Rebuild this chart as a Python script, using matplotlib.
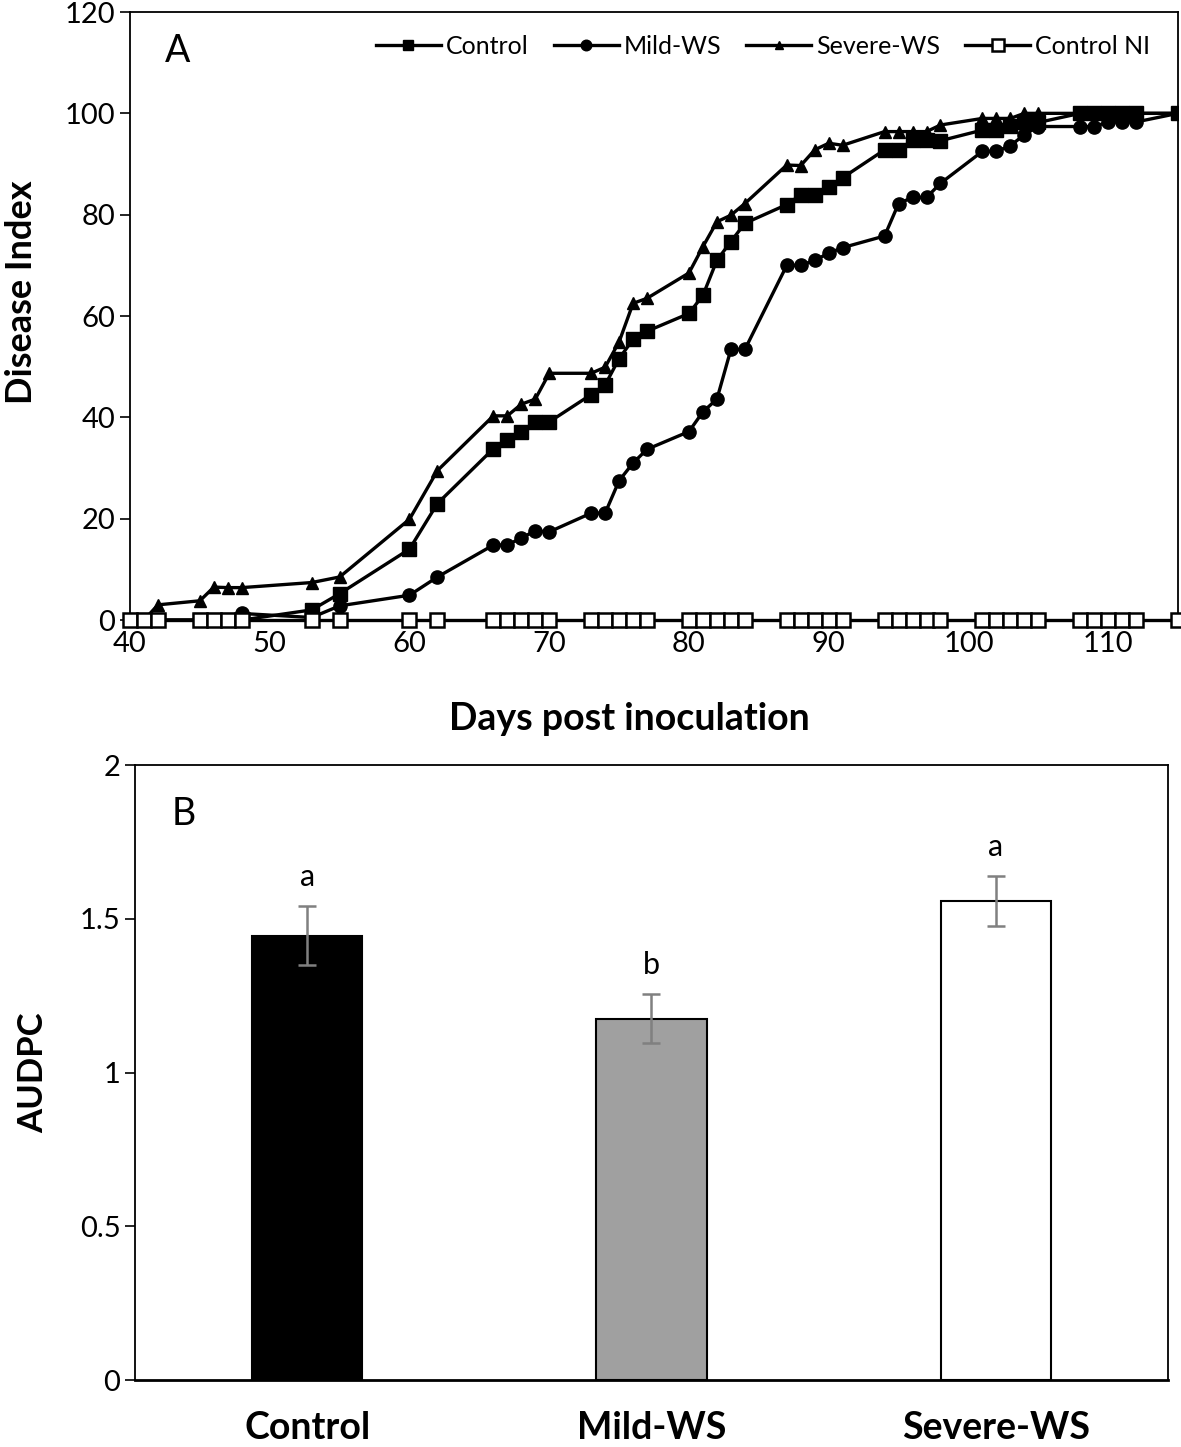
import matplotlib
matplotlib.use("Agg")
import matplotlib.pyplot as plt

plt.rcParams['font.family'] = ['Lato', 'DejaVu Sans']

days = [40, 41, 42, 45, 46, 47, 48, 53, 55, 60, 62, 66, 67, 68, 69, 70, 73, 74, 75, 76, 77,
        80, 81, 82, 83, 84, 87, 88, 89, 90, 91, 94, 95, 96, 97, 98, 101, 102, 103, 104, 105,
        108, 109, 110, 111, 112, 115]

control = [0, 0, 0, 0, 0, 0, 0, 2, 5.2, 14, 23, 33.8, 35.6, 37.2, 39.1, 39.1, 44.5, 46.4, 51.6, 55.4, 57,
           60.5, 64.1, 71, 74.7, 78.3, 82, 83.9, 83.9, 85.5, 87.3, 92.8, 92.8, 94.7, 94.7, 94.6,
           96.7, 96.7, 97.6, 98.2, 98.2, 100, 100, 100, 100, 100, 100]

mild = [0, 0, 0, 0, 0, 0, 1.3, 0.5, 2.8, 4.9, 8.5, 14.8, 14.8, 16.2, 17.6, 17.4, 21.1, 21.1, 27.5, 31, 33.7,
        37.2, 41.1, 43.6, 53.4, 53.4, 70, 70, 71, 72.4, 73.5, 75.8, 82.2, 83.4, 83.4, 86.2,
        92.5, 92.5, 93.6, 95.8, 97.4, 97.4, 97.4, 98.3, 98.3, 98.3, 100]

severe = [0, 0, 3, 3.8, 6.5, 6.4, 6.4, 7.4, 8.5, 19.9, 29.5, 40.3, 40.3, 42.6, 43.6, 48.7, 48.7, 49.9, 54.9, 62.5, 63.5,
          68.5, 73.7, 78.6, 79.9, 82.2, 89.8, 89.7, 92.8, 94.1, 93.7, 96.4, 96.4, 96.4, 96.4, 97.7,
          99, 99, 99, 100, 100, 100, 100, 100, 100, 100, 100]

control_ni = [0] * len(days)

groups = ["Control", "Mild-WS", "Severe-WS"]
audpc = [1.445, 1.175, 1.558]
audpc_err = [0.095, 0.079, 0.08]
letters = ["a", "b", "a"]
bar_colors = ["#000000", "#A0A0A0", "#FFFFFF"]

fig = plt.figure(figsize=(11.81, 14.47), dpi=100)

# Panel A
axA = fig.add_axes([0.1101, 0.5715, 0.8874, 0.4202])
lw = 2.4
lc = axA.plot(days, control, color='black', lw=lw, marker='s', ms=9.5, label='Control', zorder=4)[0]
lm = axA.plot(days, mild, color='black', lw=lw, marker='o', ms=9.5, label='Mild-WS', zorder=3)[0]
ls = axA.plot(days, severe, color='black', lw=lw, marker='^', ms=8, label='Severe-WS', zorder=3)[0]
ln = axA.plot(days, control_ni, color='black', lw=lw, marker='s', ms=10.5, mfc='white', mec='black', mew=1.8,
              label='Control NI', zorder=5, clip_on=False)[0]

axA.set_xlim(40, 115)
axA.set_ylim(0, 120)
axA.set_xticks(range(40, 111, 10))
axA.set_yticks(range(0, 121, 20))
axA.tick_params(axis='both', labelsize=21, direction='out', length=7, width=1.2)
axA.tick_params(axis='x', length=0, pad=8)
for s in axA.spines.values():
    s.set_linewidth(1.3)
axA.set_xlabel('Days post inoculation', fontsize=27, fontweight='bold')
axA.xaxis.set_label_coords(0.476, -0.135)
axA.set_ylabel('Disease Index', fontsize=26, fontweight='bold')
axA.yaxis.set_label_coords(-0.088, 0.54)
axA.text(0.033, 0.965, 'A', transform=axA.transAxes, fontsize=27, va='top', ha='left')

axA.legend([lc, lm, ls, ln], ['Control', 'Mild-WS', 'Severe-WS', 'Control NI'], loc='upper right',
           bbox_to_anchor=(0.995, 1.0), ncol=4, frameon=False, fontsize=18,
           handlelength=2.6, columnspacing=1.0, handletextpad=0.2, markerscale=0.8)

# Panel B
axB = fig.add_axes([0.1143, 0.0463, 0.8747, 0.4250])
x = range(len(groups))
axB.bar(x, audpc, width=0.32, color=bar_colors, edgecolor='black', linewidth=1.5,
        yerr=audpc_err, error_kw=dict(ecolor='#808080', elinewidth=1.8, capsize=6.5, capthick=1.8))
for i, (v, e, l) in enumerate(zip(audpc, audpc_err, letters)):
    axB.text(i, v + e + 0.05, l, ha='center', va='bottom', fontsize=22)
axB.set_xlim(-0.5, 2.5)
axB.set_ylim(0, 2)
axB.set_yticks([0, 0.5, 1, 1.5, 2])
axB.set_yticklabels(['0', '0.5', '1', '1.5', '2'])
axB.set_xticks(list(x))
axB.set_xticklabels(groups, fontsize=27, fontweight='bold')
axB.tick_params(axis='y', labelsize=21, direction='out', length=7, width=1.2)
axB.tick_params(axis='x', length=0, pad=22)
for s in axB.spines.values():
    s.set_linewidth(1.3)
axB.spines['bottom'].set_linewidth(2)
axB.set_ylabel('AUDPC', fontsize=25, fontweight='bold', labelpad=22)
axB.text(0.035, 0.95, 'B', transform=axB.transAxes, fontsize=27, va='top', ha='left')

fig.savefig('out.png', dpi=100)
